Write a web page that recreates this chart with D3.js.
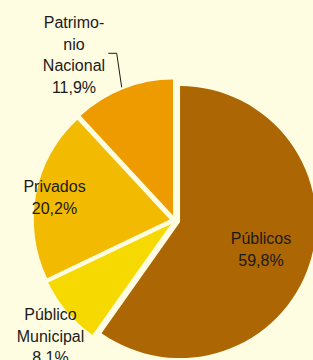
<!DOCTYPE html>
<html>
<head>
<meta charset="utf-8">
<script src="https://cdn.jsdelivr.net/npm/d3@7"></script>
<style>
  html, body { margin: 0; padding: 0; background: #FFFDE1; }
  svg { display: block; }
</style>
</head>
<body>
<svg id="chart" width="313" height="360"></svg>
<script>
// ---- data ----
const categories = ["Públicos", "Público Municipal", "Privados", "Patrimonio Nacional"];
const values = [59.8, 8.1, 20.2, 11.9];
const valueLabels = ["59,8%", "8,1%", "20,2%", "11,9%"];
const labelLines = [["Públicos"], ["Público", "Municipal"], ["Privados"], ["Patrimo-", "nio", "Nacional"]];

// ---- style / layout ----
const colors = ["#AD6604", "#F6D900", "#F2BA00", "#EE9B00"];
const center = [175, 220.5];
const radius = 136;
const explode = 5.3;
const fontSize = 16;
const lineGap = 21.5;
// label anchor: x centre, first baseline
const labelPos = [[261, 244], [50.5, 320], [54.5, 192], [74, 28.3]];

const svg = d3.select("#chart");
const g = svg.append("g").attr("transform", `translate(${center[0]},${center[1]})`);

const pie = d3.pie().sort(null).value(d => d.value).startAngle(0).endAngle(2 * Math.PI);
const arcs = pie(values.map((v, i) => ({ value: v, i })));
const arc = d3.arc().innerRadius(0).outerRadius(radius);

g.selectAll("path.slice")
  .data(arcs)
  .join("path")
  .attr("class", "slice")
  .attr("fill", d => colors[d.data.i])
  .attr("d", arc)
  .attr("transform", d => {
    const a = (d.startAngle + d.endAngle) / 2;
    return `translate(${explode * Math.sin(a)},${-explode * Math.cos(a)})`;
  });

// leader line for Patrimonio Nacional
svg.append("polyline")
  .attr("points", "108.3,53.3 116.7,53.3 121.7,87.3")
  .attr("fill", "none")
  .attr("stroke", "#1a1a1a")
  .attr("stroke-width", 1);

// labels
categories.forEach((c, i) => {
  const lines = labelLines[i].concat([valueLabels[i]]);
  const t = svg.append("text")
    .attr("font-family", "'Liberation Sans', Arial, sans-serif")
    .attr("font-size", fontSize)
    .attr("fill", "#1a1a1a")
    .attr("text-anchor", "middle");
  lines.forEach((ln, k) => {
    t.append("tspan")
      .attr("x", labelPos[i][0])
      .attr("y", labelPos[i][1] + k * lineGap)
      .text(ln);
  });
});
</script>
</body>
</html>
